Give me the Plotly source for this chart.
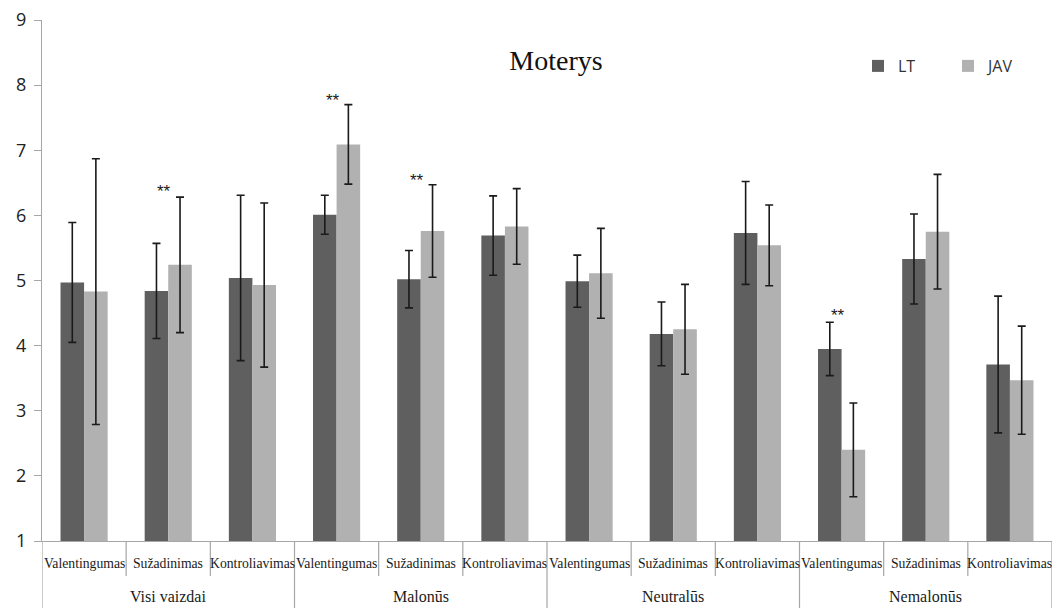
import plotly.graph_objects as go

groups = ["Visi vaizdai", "Malonūs", "Neutralūs", "Nemalonūs"]
subcats = ["Valentingumas", "Sužadinimas", "Kontroliavimas"]

lt_mean = [4.97, 4.84, 5.04, 6.01, 5.02, 5.69, 4.99, 4.18, 5.73, 3.95, 5.33, 3.71]
lt_sd = [0.92, 0.73, 1.27, 0.30, 0.44, 0.61, 0.40, 0.49, 0.79, 0.41, 0.69, 1.05]
jav_mean = [4.83, 5.24, 4.93, 7.09, 5.76, 5.83, 5.11, 4.25, 5.54, 2.40, 5.75, 3.47]
jav_sd = [2.04, 1.04, 1.26, 0.61, 0.71, 0.58, 0.69, 0.69, 0.62, 0.72, 0.88, 0.83]

# significance markers: (category index, y position)
sig_idx = [1, 3, 4, 9]
sig_y = [6.36, 7.76, 6.53, 4.47]

y_ticks = [1, 2, 3, 4, 5, 6, 7, 8, 9]

n = len(groups) * len(subcats)
xs = list(range(n))
sub_labels = [subcats[i % 3] for i in xs]

W, H = 1053, 608
ML, MR, MT, MB = 42, 1, 20, 67
plot_w = W - ML - MR
plot_h = H - MT - MB

fig = go.Figure()
fig.add_trace(go.Bar(
    x=xs, y=lt_mean, name="LT", marker=dict(color="#5f5f5f", line=dict(width=0)),
    error_y=dict(type="data", array=lt_sd, visible=True, color="#1a1a1a", thickness=1.6, width=4),
))
fig.add_trace(go.Bar(
    x=xs, y=jav_mean, name="JAV", marker=dict(color="#b1b1b1", line=dict(width=0)),
    error_y=dict(type="data", array=jav_sd, visible=True, color="#1a1a1a", thickness=1.6, width=4),
))

shapes = []
# divider lines under the x axis
for k in range(n + 1):
    xpos = k - 0.5
    is_group = (k % 3 == 0)
    shapes.append(dict(
        type="line", xref="x", yref="paper", x0=xpos, x1=xpos,
        y0=0, y1=(-MB / plot_h) if is_group else (-35 / plot_h),
        line=dict(color="#a6a6a6", width=1.2),
    ))

annotations = []
for i in xs:
    annotations.append(dict(
        x=i, y=-22 / plot_h, xref="x", yref="paper", text=sub_labels[i],
        showarrow=False, yanchor="middle", xanchor="center",
        font=dict(family="Liberation Serif", size=13.7, color="#1a1a1a"),
    ))
for g, name in enumerate(groups):
    annotations.append(dict(
        x=g * 3 + 1, y=-55 / plot_h, xref="x", yref="paper", text=name,
        showarrow=False, yanchor="middle", xanchor="center",
        font=dict(family="Liberation Serif", size=16, color="#1a1a1a"),
    ))
for idx, yv in zip(sig_idx, sig_y):
    annotations.append(dict(
        x=idx, y=yv, xref="x", yref="y", text="**", showarrow=False,
        xshift=-4, yanchor="middle", xanchor="center",
        font=dict(family="Liberation Sans", size=17, color="#1a1a1a"),
    ))

fig.update_layout(
    width=W, height=H,
    margin=dict(l=ML, r=MR, t=MT, b=MB),
    paper_bgcolor="white", plot_bgcolor="white",
    barmode="group", bargap=0.44, bargroupgap=0,
    title=dict(text="Moterys", x=556 / W, xanchor="center", y=1 - 60 / H, yanchor="middle",
               yref="container", font=dict(family="Liberation Serif", size=28, color="#111")),
    legend=dict(orientation="h", x=(877 - 19 - ML) / plot_w, xanchor="left",
                y=1 - (66 - MT) / plot_h, yanchor="middle",
                font=dict(family="Open Sans", size=16, color="#333"),
                entrywidth=45, entrywidthmode="pixels", bgcolor="rgba(0,0,0,0)"),
    xaxis=dict(range=[-0.5, n - 0.5], showticklabels=False, ticks="", showgrid=False,
               zeroline=False, showline=True, linecolor="#a6a6a6", linewidth=1.2, fixedrange=True),
    yaxis=dict(range=[1, 9], tickvals=y_ticks, ticks="outside", ticklen=7, tickcolor="#a6a6a6",
               showgrid=False, zeroline=False, showline=True, linecolor="#a6a6a6", linewidth=1.2,
               tickfont=dict(family="Open Sans", size=18, color="#222"), ticklabelstandoff=4),
    shapes=shapes,
    annotations=annotations,
)

fig.write_html("out.html", config={"displayModeBar": False},
               post_script="document.body.style.margin='0';")
